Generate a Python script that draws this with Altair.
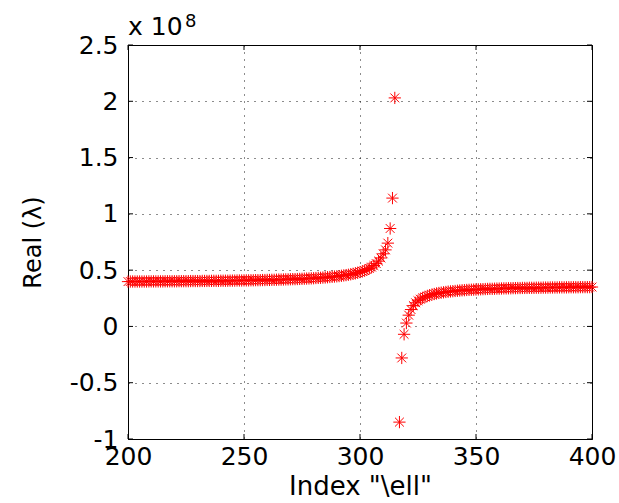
import altair as alt
import pandas as pd

# Index values (two branches; the point at 316 lies outside the plotted range)
idx_left = list(range(200, 316))
val_left = [
    0.398, 0.399, 0.399, 0.399, 0.399, 0.399, 0.399, 0.399, 0.399, 0.400,
    0.400, 0.400, 0.400, 0.400, 0.400, 0.400, 0.401, 0.401, 0.401, 0.401,
    0.401, 0.401, 0.402, 0.402, 0.402, 0.402, 0.402, 0.403, 0.403, 0.403,
    0.403, 0.403, 0.404, 0.404, 0.404, 0.404, 0.405, 0.405, 0.405, 0.405,
    0.406, 0.406, 0.406, 0.406, 0.407, 0.407, 0.407, 0.408, 0.408, 0.408,
    0.409, 0.409, 0.409, 0.410, 0.410, 0.411, 0.411, 0.411, 0.412, 0.412,
    0.413, 0.413, 0.414, 0.414, 0.415, 0.416, 0.416, 0.417, 0.418, 0.418,
    0.419, 0.420, 0.420, 0.421, 0.422, 0.423, 0.424, 0.425, 0.426, 0.427,
    0.428, 0.430, 0.431, 0.432, 0.434, 0.435, 0.437, 0.439, 0.441, 0.443,
    0.445, 0.447, 0.450, 0.453, 0.456, 0.459, 0.463, 0.467, 0.472, 0.477,
    0.483, 0.489, 0.496, 0.505, 0.515, 0.527, 0.541, 0.558, 0.580, 0.608,
    0.645, 0.680, 0.740, 0.870, 1.140, 2.030,
]
idx_right = list(range(317, 401))
val_right = [
    -0.850, -0.280, -0.070, 0.030, 0.100, 0.150, 0.185, 0.210, 0.228, 0.242,
    0.253, 0.262, 0.270, 0.277, 0.283, 0.288, 0.293, 0.297, 0.300, 0.303,
    0.306, 0.309, 0.311, 0.313, 0.315, 0.317, 0.319, 0.321, 0.322, 0.324,
    0.325, 0.326, 0.327, 0.328, 0.329, 0.330, 0.331, 0.332, 0.333, 0.334,
    0.334, 0.335, 0.336, 0.336, 0.337, 0.338, 0.338, 0.339, 0.339, 0.340,
    0.340, 0.341, 0.341, 0.342, 0.342, 0.342, 0.343, 0.343, 0.343, 0.344,
    0.344, 0.344, 0.345, 0.345, 0.345, 0.346, 0.346, 0.346, 0.346, 0.347,
    0.347, 0.347, 0.347, 0.348, 0.348, 0.348, 0.348, 0.348, 0.349, 0.349,
    0.349, 0.349, 0.349, 0.350,
]

x_ticks = [200, 250, 300, 350, 400]
y_ticks = [-1, -0.5, 0, 0.5, 1, 1.5, 2, 2.5]
x_title = 'Index "\\ell"'
y_title = "Real (λ)"
exp_base = "x 10"
exp_power = "8"

W, H = 464, 394
FONT = "DejaVu Sans"

df = pd.DataFrame({"index": idx_left + idx_right, "value": val_left + val_right})

x_scale = alt.Scale(domain=[200, 400], nice=False, zero=False)
y_scale = alt.Scale(domain=[-1, 2.5], nice=False, zero=False)

asterisk = "M-1,0L1,0M0,-1L0,1M-0.72,-0.72L0.72,0.72M-0.72,0.72L0.72,-0.72"

common = dict(grid=True, gridDash=[1, 6], gridColor="#000000", gridOpacity=0.9, tickSize=0,
              labelFontSize=25, labelFont=FONT, titleFont=FONT,
              labelColor="black", titleColor="black", titleFontWeight="normal",
              domainColor="black", labelFlush=False,
              labelExpr="toString(datum.value)")

points = alt.Chart(df).mark_point(
    shape=asterisk, filled=False, color="#ff0000", size=150, strokeWidth=1, opacity=1
).encode(
    x=alt.X("index:Q", scale=x_scale,
            axis=alt.Axis(values=x_ticks, title=x_title, titleFontSize=26,
                          labelPadding=5, titlePadding=4, **common)),
    y=alt.Y("value:Q", scale=y_scale,
            axis=alt.Axis(values=y_ticks, title=y_title, titleFontSize=24,
                          labelPadding=10, titlePadding=24, **common)),
)

xt = pd.DataFrame({"t": x_ticks})
yt = pd.DataFrame({"t": y_ticks})

xticks_bottom = alt.Chart(xt).mark_rule(color="black", strokeWidth=1).encode(
    x=alt.X("t:Q", scale=x_scale), y=alt.value(H), y2=alt.value(H - 5))
xticks_top = alt.Chart(xt).mark_rule(color="black", strokeWidth=1).encode(
    x=alt.X("t:Q", scale=x_scale), y=alt.value(0), y2=alt.value(5))
yticks_left = alt.Chart(yt).mark_rule(color="black", strokeWidth=1).encode(
    y=alt.Y("t:Q", scale=y_scale), x=alt.value(0), x2=alt.value(5))
yticks_right = alt.Chart(yt).mark_rule(color="black", strokeWidth=1).encode(
    y=alt.Y("t:Q", scale=y_scale), x=alt.value(W), x2=alt.value(W - 5))

exp_text = alt.Chart(pd.DataFrame({"s": [exp_base]})).mark_text(
    align="left", baseline="alphabetic", fontSize=25, font=FONT, color="black"
).encode(text="s:N", x=alt.value(0), y=alt.value(-10))
exp_pow = alt.Chart(pd.DataFrame({"s": [exp_power]})).mark_text(
    align="left", baseline="alphabetic", fontSize=18, font=FONT, color="black"
).encode(text="s:N", x=alt.value(57), y=alt.value(-18))

chart = alt.layer(
    points, xticks_bottom, xticks_top, yticks_left, yticks_right, exp_text, exp_pow
).properties(
    width=W, height=H,
    autosize=alt.AutoSizeParams(type="none"),
    padding={"left": 128, "top": 45, "right": 27, "bottom": 64},
    background="white",
).configure_view(stroke="black", strokeWidth=1)

chart.save("out.html", embed_options={"renderer": "svg", "actions": False})
